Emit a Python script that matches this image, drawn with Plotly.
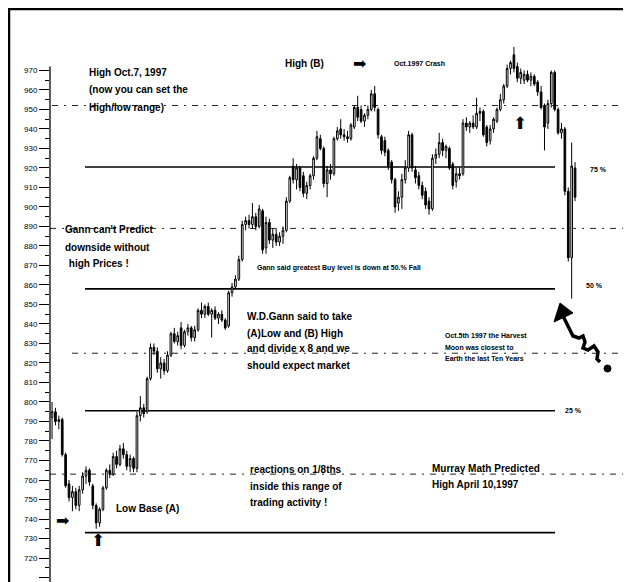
import plotly.graph_objects as go

# ---------------- data ----------------
open_ = [792, 795, 790, 791, 773, 758, 751, 754, 747, 755, 762, 765, 757, 747,
         738, 745, 756, 765, 763, 772, 768, 776, 773, 767, 771,
         766, 793, 797, 795, 812,
         828, 826, 817, 820, 816, 824, 835, 831, 838, 829, 836, 838, 833, 837, 847,
         845, 849, 845, 847, 843, 845, 842,
         839, 856, 859, 863, 873, 891, 893,
         891, 895, 890, 898, 879, 892, 883, 886, 882, 885, 888,
         903, 921, 914, 920, 916, 907,
         911, 916, 925, 935, 930, 912, 919,
         917, 935, 940, 937, 936, 935, 941, 951, 950, 944, 947, 950,
         958, 950, 936, 934, 929, 923, 914, 902,
         905, 914, 920, 937, 919, 916, 911, 908, 903,
         899, 925, 927, 933, 929, 930, 922, 913, 917,
         917, 943, 941, 943, 941, 948, 949, 941, 934, 940, 944, 950, 955, 962, 971,
         978, 972, 966, 965, 968, 965, 967, 964,
         959, 952, 943, 953, 969, 950, 938,
         940, 908, 874, 920]
high = [800, 797, 793, 792, 774, 760, 757, 756, 757, 764, 767, 766, 758, 748,
        746, 757, 766, 768, 774, 775, 778, 779, 775, 773, 772,
        795, 803, 799, 813, 830,
        830, 828, 823, 822, 826, 836, 838, 836, 841, 837, 840, 839, 839, 848, 851,
        850, 851, 848, 849, 846, 847, 843,
        857, 861, 865, 875, 893, 895, 896,
        902, 897, 901, 899, 895, 894, 889, 889, 887, 890, 905,
        916, 925, 922, 921, 918, 913,
        917, 926, 939, 937, 931, 921, 922,
        936, 941, 945, 940, 939, 943, 952, 957, 952, 948, 952, 960,
        962, 951, 937, 936, 930, 924, 915, 908,
        917, 924, 939, 938, 921, 918, 913, 910, 905,
        927, 930, 938, 935, 932, 931, 923, 920, 920,
        945, 946, 944, 947, 956, 951, 950, 942, 942, 946, 951, 958, 963, 973, 975,
        982, 974, 971, 970, 970, 969, 968, 965,
        962, 953, 955, 970, 970, 951, 943,
        941, 910, 933, 923]
low = [781, 788, 786, 772, 756, 749, 744, 745, 744, 753, 758, 757, 745, 735,
       736, 744, 755, 761, 762, 766, 767, 771, 765, 764, 764,
       764, 790, 792, 794, 811,
       824, 815, 812, 814, 815, 823, 830, 829, 827, 828, 834, 831, 831, 836, 843,
       843, 844, 833, 842, 840, 841, 837,
       838, 854, 858, 862, 872, 888, 889,
       889, 888, 889, 876, 876, 881, 879, 880, 880, 881, 887,
       902, 912, 909, 908, 905, 904,
       909, 914, 924, 929, 910, 905, 914,
       916, 934, 935, 934, 933, 934, 940, 944, 943, 941, 945, 949,
       949, 935, 927, 926, 919, 912, 897, 898,
       899, 912, 918, 918, 912, 909, 904, 899, 896,
       898, 922, 925, 926, 925, 919, 909, 910, 914,
       916, 939, 938, 940, 940, 944, 936, 931, 932, 938, 943, 949, 953, 961, 968,
       969, 964, 963, 963, 964, 962, 962, 957,
       950, 929, 940, 951, 949, 937, 935,
       906, 872, 853, 903]
close = [795, 790, 791, 773, 757, 751, 754, 747, 755, 762, 765, 759, 747, 738,
         745, 756, 765, 763, 772, 768, 776, 773, 767, 771, 766,
         793, 797, 794, 812, 828,
         826, 817, 820, 816, 824, 835, 831, 834, 829, 836, 838, 833, 837, 847, 845,
         849, 845, 847, 843, 845, 842, 838,
         856, 859, 863, 873, 891, 893, 891,
         895, 890, 899, 878, 892, 883, 886, 882, 885, 888, 903,
         915, 914, 920, 910, 907, 911,
         916, 925, 936, 930, 912, 919, 917,
         935, 939, 937, 936, 935, 942, 951, 946, 944, 947, 950, 958,
         951, 937, 929, 928, 921, 914, 900, 905,
         914, 920, 937, 920, 915, 911, 906, 901, 899,
         925, 927, 933, 929, 931, 920, 911, 917, 916,
         943, 941, 943, 941, 948, 949, 937, 933, 940, 945, 950, 955, 962, 971, 974,
         971, 966, 969, 968, 965, 967, 963, 959,
         951, 941, 953, 969, 950, 938, 940,
         908, 874, 921, 905]

y_ticks = list(range(710, 980, 10))
solid_levels = [733, 795.5, 858, 920.5]      # 0, 25, 50, 75 %
dotted_levels = [763, 825, 889, 952]          # intermediate 1/8ths
pct_labels = ["25 %", "50 %", "75 %"]

# ---------------- layout helpers ----------------
# the page body has an 8px margin, so the figure is drawn at (8, 8)
OFF = 8
W, H = 631 - OFF, 582 - OFF
ML, MR, MT, MB = 50 - OFF, 3, 40 - OFF, 0
PW, PH = W - ML - MR, H - MT - MB


def px(x):
    """screen x pixel -> paper fraction"""
    return (x - OFF - ML) / PW


def py(y):
    """screen y pixel -> paper fraction"""
    return (H - MB - (y - OFF)) / PH


n = len(close)
xs = list(range(n))

fig = go.Figure()
fig.add_trace(go.Candlestick(
    x=xs, open=open_, high=high, low=low, close=close,
    increasing=dict(line=dict(color="black", width=1), fillcolor="white"),
    decreasing=dict(line=dict(color="black", width=1), fillcolor="black"),
    whiskerwidth=0, hoverinfo="skip", showlegend=False,
))

shapes = []
# frame of the scanned page
shapes.append(dict(type="rect", xref="paper", yref="paper",
                   x0=px(9), x1=px(628), y0=py(640), y1=py(9),
                   line=dict(color="black", width=2.5), layer="above"))
# y axis line
shapes.append(dict(type="line", xref="paper", yref="y", x0=0, x1=0,
                   y0=707.7, y1=972, line=dict(color="black", width=1.3)))
# solid Gann octave lines
for lv in solid_levels:
    shapes.append(dict(type="line", xref="paper", yref="y",
                       x0=px(85), x1=px(555), y0=lv, y1=lv,
                       line=dict(color="black", width=1.6), layer="below"))
# dotted octave lines
dotted_start = {763: 50, 825: 72, 889: 50, 952: 52}
for lv in dotted_levels:
    shapes.append(dict(type="line", xref="paper", yref="y",
                       x0=px(dotted_start[lv]), x1=px(631), y0=lv, y1=lv,
                       line=dict(color="#222", width=1, dash="6px,6px,2px,6px"),
                       layer="below"))


def pth(points):
    s = "M %f,%f" % (px(points[0][0]), py(points[0][1]))
    for (x, y) in points[1:]:
        s += " L %f,%f" % (px(x), py(y))
    return s


# squiggly arrow
squig = [(563, 316), (568, 326), (573, 336), (579, 338), (583, 336), (585, 342),
         (583, 348), (588, 350), (594, 346), (598, 352), (597, 359), (600, 362)]
shapes.append(dict(type="path", xref="paper", yref="paper", path=pth(squig),
                   line=dict(color="black", width=3.5), layer="above"))
head = [(560, 303), (554, 322), (573, 313)]
shapes.append(dict(type="path", xref="paper", yref="paper",
                   path=pth(head) + " Z", fillcolor="black",
                   line=dict(color="black", width=1), layer="above"))
shapes.append(dict(type="circle", xref="paper", yref="paper",
                   x0=px(604), x1=px(611), y0=py(372), y1=py(365),
                   fillcolor="black", line=dict(color="black", width=1),
                   layer="above"))

BIG = dict(family="Liberation Sans, Arial, sans-serif", size=10, color="black")
SMALL = dict(family="Liberation Sans, Arial, sans-serif", size=7, color="black")

texts = [
    ("<b>High Oct.7, 1997</b>", 87, 73, BIG),
    ("<b>(now you can set the</b>", 87, 90, BIG),
    ("<b>High/low range)</b>", 87, 107, BIG),
    ("<b>High (B)</b>", 283, 64, BIG),
    ("<b>Oct.1997 Crash</b>", 392, 64, SMALL),
    ("<b>Gann can't Predict</b>", 63, 229, BIG),
    ("<b>downside without</b>", 63, 247, BIG),
    ("<b> high Prices !</b>", 64, 264, BIG),
    ("<b>Gann said greatest Buy level is down at 50.% Fall</b>", 255, 268, SMALL),
    ("<b>W.D.Gann said to take</b>", 245, 316, BIG),
    ("<b>(A)Low and (B) High</b>", 245, 333, BIG),
    ("<b>and divide x 8 and we</b>", 245, 349, BIG),
    ("<b>should expect market</b>", 245, 365, BIG),
    ("<b>Oct.5th 1997 the Harvest</b>", 443, 335, SMALL),
    ("<b>Moon was closest to</b>", 443, 347, SMALL),
    ("<b>Earth the last Ten Years</b>", 443, 358, SMALL),
    ("<b>reactions on 1/8ths</b>", 248, 469, BIG),
    ("<b>inside this range of</b>", 248, 486, BIG),
    ("<b>trading activity !</b>", 248, 502, BIG),
    ("<b>Murray Math Predicted</b>", 430, 468, BIG),
    ("<b>High April 10,1997</b>", 430, 484, BIG),
    ("<b>Low Base (A)</b>", 114, 508, BIG),
    ("<b>" + pct_labels[2] + "</b>", 588, 170, SMALL),
    ("<b>" + pct_labels[1] + "</b>", 584, 285, SMALL),
    ("<b>" + pct_labels[0] + "</b>", 563, 411, SMALL),
]
ARROW_R = dict(family="DejaVu Sans", size=16, color="black")
ARROW_U = dict(family="DejaVu Sans", size=17, color="black")
arrows = [("➡", 351, 64), ("➡", 54, 520)]
uparrows = [("⬆", 520, 123), ("⬆", 98, 540)]

annotations = []
for t, x, y, f in texts:
    annotations.append(dict(text=t, xref="paper", yref="paper", x=px(x), y=py(y),
                            xanchor="left", yanchor="middle", showarrow=False,
                            font=f))
for t, x, y in arrows:
    annotations.append(dict(text=t, xref="paper", yref="paper", x=px(x), y=py(y),
                            xanchor="left", yanchor="middle", showarrow=False,
                            font=ARROW_R))
for t, x, y in uparrows:
    annotations.append(dict(text=t, xref="paper", yref="paper", x=px(x), y=py(y),
                            xanchor="center", yanchor="middle", showarrow=False,
                            font=ARROW_U))

fig.update_layout(
    width=W, height=H,
    margin=dict(l=ML, r=MR, t=MT, b=MB),
    paper_bgcolor="white", plot_bgcolor="white",
    showlegend=False,
    shapes=shapes,
    annotations=annotations,
    xaxis=dict(range=[-0.6, n - 1 + 53 / 3.4], visible=False,
               rangeslider=dict(visible=False), fixedrange=True),
    yaxis=dict(range=[707.7, 985.6], tickmode="array", tickvals=y_ticks,
               ticktext=[str(v) for v in y_ticks],
               ticks="outside", ticklen=10, tickwidth=1, tickcolor="black",
               showgrid=False, zeroline=False, showline=False,
               tickfont=dict(family="Liberation Sans Narrow, Liberation Sans, Arial", size=8,
                             color="black"),
               minor=dict(tickmode="array",
                          tickvals=[v + 5 for v in y_ticks[:-1]],
                          ticks="outside", ticklen=4, tickcolor="black",
                          showgrid=False),
               fixedrange=True),
)

fig.write_html("out.html")
